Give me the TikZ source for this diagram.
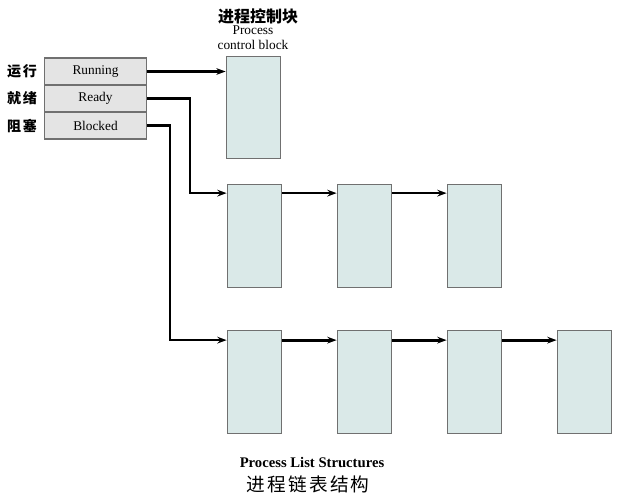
\documentclass[tikz,border=0pt]{standalone}
\usepackage{fontspec}
\setmainfont{Liberation Serif}
\newfontfamily\cjk{Noto Sans CJK SC}
\newfontfamily\cjkwide[LetterSpace=12]{Noto Sans CJK SC}
\usepackage{tikz}
\usetikzlibrary{calc}
\usetikzlibrary{arrows.meta}
\definecolor{pcbfill}{HTML}{DAE9E8}
\definecolor{cellfill}{HTML}{E4E4E4}
\definecolor{edge}{HTML}{707070}

\begin{document}
\begin{tikzpicture}[x=0.75pt, y=-0.75pt,
        pcb/.style={rectangle, draw=edge, fill=pcbfill, line width=0.8pt, minimum width=41pt, minimum height=77pt},
        cell/.style={rectangle, draw=edge, fill=cellfill, line width=0.8pt, minimum width=77pt, minimum height=20.25pt, font=\fontsize{10}{11}\selectfont},
        link/.style={line width=1.6pt, -{Stealth[length=7pt, width=5pt]}},
        fatlink/.style={line width=2.4pt, -{Stealth[length=7pt, width=5pt]}}]
        \useasboundingbox (0, 0) rectangle (627, 503);
        % state table
        \node[cell] (run) at (95.5, 71.5) {Running};
        \node[cell] (rdy) at (95.5, 98.5) {Ready};
        \node[cell] (blk) at (95.5, 125.5) {Blocked};
        \node[font=\cjkwide\bfseries\fontsize{10.5}{12}\selectfont] (runcn) at (22, 71.5) {运行};
        \node[font=\cjkwide\bfseries\fontsize{10.5}{12}\selectfont] (rdycn) at (22, 98.5) {就绪};
        \node[font=\cjkwide\bfseries\fontsize{10.5}{12}\selectfont] (blkcn) at (22, 126) {阻塞};
        % running process
        \node[pcb] (p0) at (253.5, 107.5) {};
        \node[font=\cjk\bfseries\fontsize{12}{14}\selectfont] (title) at (258, 16) {进程控制块};
        \node[align=center, font=\fontsize{10}{11}\selectfont] (pcbtxt) at (253, 38) {Process\\control block};
        \draw[link] (run.east) -- (run.east -| p0.west);
        % ready and blocked lists
        \foreach \x[count=\i from 1] in {254.5, 364.5, 474.5}
        {
            \node[pcb] (a\i) at (\x, 236) {};
        }
        \foreach \x[count=\i from 1] in {254.5, 364.5, 474.5, 584.5}
        {
            \node[pcb] (b\i) at (\x, 382) {};
        }
        \draw[link] (rdy.east) -- ++(43, 0) |- ($(a1.north west) + (0, 9)$);
        \draw[link] (blk.east) -- ++(23, 0) |- ($(b1.north west) + (0, 10)$);
        \foreach \i/\j in {1/2, 2/3}
            \draw[link] ($(a\i.north east) + (0, 9)$) -- ($(a\j.north west) + (0, 9)$);
        \foreach \i/\j in {1/2, 2/3, 3/4}
            \draw[fatlink] ($(b\i.north east) + (0, 10)$) -- ($(b\j.north west) + (0, 10)$);
        % caption
        \node[font=\bfseries\fontsize{11}{13}\selectfont] (cap) at (312, 462) {Process List Structures};
        \node[font=\cjkwide\fontsize{14}{16}\selectfont] (capcn) at (308, 484) {进程链表结构};
    \end{tikzpicture}
\end{document}
